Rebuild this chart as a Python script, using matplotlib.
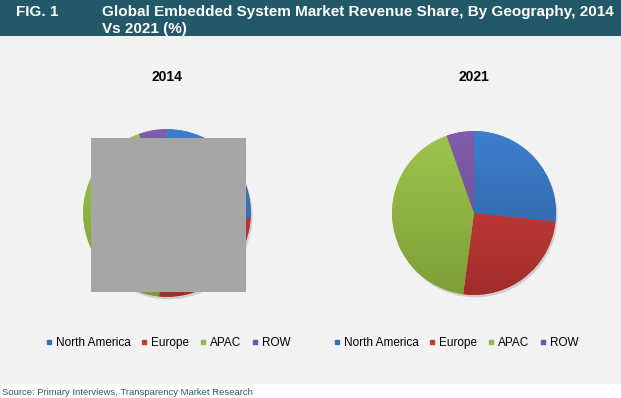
import numpy as np
import matplotlib
matplotlib.use("Agg")
import matplotlib.pyplot as plt
from matplotlib.colors import LinearSegmentedColormap
from matplotlib.lines import Line2D
from matplotlib.patches import Rectangle, Circle

#========== Data ===========
regions = ["North America", "Europe", "APAC", "ROW"]
years = ["2014", "2021"]
share_2014 = [26.0, 25.5, 43.1, 5.4]
share_2021 = [26.7, 25.4, 42.5, 5.4]

#========== Style ===========
plt.rcParams['font.family'] = ['Liberation Sans', 'DejaVu Sans']
W, H = 621, 398
top_col = ["#3d7fcd", "#d3433e", "#9fc54e", "#7f5daa"]   # gradient top
bot_col = ["#2c5d9a", "#a22d2b", "#7c9e38", "#6a488f"]   # gradient bottom
mid_col = ["#3670b6", "#c43c39", "#91b84a", "#7553a0"]
header = "#225867"

fig = plt.figure(figsize=(W/100, H/100), dpi=100)
fig.patch.set_facecolor("white")

# background panel and header band (pixel coords -> figure fraction)
def px(x, y):
    return x/W, 1 - y/H

fig.patches.append(Rectangle(px(0, 384), 1, 348/H, transform=fig.transFigure,
                             facecolor="#f2f2f2", edgecolor="none", zorder=-2))
fig.patches.append(Rectangle(px(0, 36), 1, 36/H, transform=fig.transFigure,
                             facecolor=header, edgecolor="none", zorder=-2))
fig.text(*px(16, 16), "FIG. 1", color="white", fontsize=11, fontweight="bold", va="baseline")
fig.text(*px(102, 16), "Global Embedded System Market Revenue Share, By Geography, 2014",
         color="white", fontsize=11, fontweight="bold", va="baseline")
fig.text(*px(102, 33), "Vs 2021 (%)", color="white", fontsize=11, fontweight="bold", va="baseline")

#========== Pies ===========
grad = np.linspace(0, 1, 256).reshape(-1, 1)

def draw_pie(cx, cy, r, values, title):
    ax = fig.add_axes([(cx - r)/W, (H - cy - r)/H, 2*r/W, 2*r/H])
    ax.set_facecolor("none")
    ax.add_patch(Circle((0.02, -0.03), 1.0, facecolor="#cfcfcf", edgecolor="none", zorder=0))
    wedges, _ = ax.pie(values, colors=mid_col, startangle=90, counterclock=False,
                       wedgeprops=dict(linewidth=0))
    for k, w in enumerate(wedges):
        cmap = LinearSegmentedColormap.from_list("g%d" % k, [top_col[k], bot_col[k]])
        im = ax.imshow(grad, cmap=cmap, extent=[-1, 1, -1, 1], aspect="auto", zorder=2)
        im.set_clip_path(w)
    ax.set_xlim(-1.05, 1.05)
    ax.set_ylim(-1.05, 1.05)
    ax.axis("off")
    fig.text(*px(cx, 77), title, ha="center", va="center", fontsize=10, fontweight="bold")
    return ax

draw_pie(167, 213, 88, share_2014, years[0])
draw_pie(474, 213, 86, share_2021, years[1])

# grey block covering the 2014 pie
fig.patches.append(Rectangle(px(91, 292), 155/W, 154/H, transform=fig.transFigure,
                             facecolor="#a6a6a6", edgecolor="none", zorder=5))

#========== Legends ===========
handles = [Line2D([], [], marker="s", linestyle="none", markersize=3.5,
                  markerfacecolor=c, markeredgecolor=c) for c in mid_col]
for lx in [168, 456]:
    fig.legend(handles, regions, loc="center", bbox_to_anchor=px(lx, 343), ncol=4,
               frameon=False, fontsize=8.5, handlelength=0.5, handletextpad=0.35,
               columnspacing=0.9, borderpad=0)

fig.text(*px(2, 395), "Source: Primary Interviews, Transparency Market Research",
         color="#2a5b6b", fontsize=6.8, va="baseline")

fig.savefig("out.png", dpi=100)
